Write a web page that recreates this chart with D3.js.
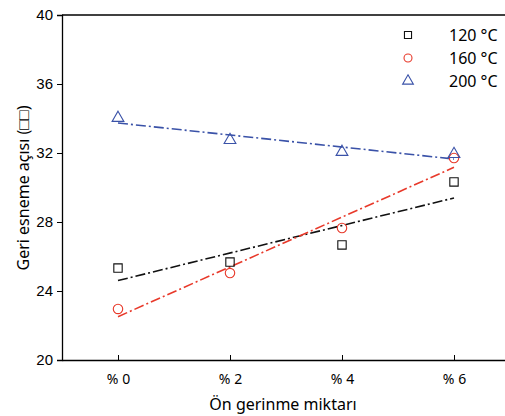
<!DOCTYPE html>
<html>
<head>
<meta charset="utf-8">
<script src="https://cdn.jsdelivr.net/npm/d3@7"></script>
<style>
  body { margin: 0; background: #fff; }
  .canva svg { display: block; }
</style>
</head>
<body>
<div class="canva"></div>
<script>
var strain = [0, 2, 4, 6];
var strainLabels = ["% 0", "% 2", "% 4", "% 6"];
var yTicks = [20, 24, 28, 32, 36, 40];

var series120 = [25.33, 25.68, 26.67, 30.32];
var series160 = [22.96, 25.04, 27.65, 31.71];
var series200 = [34.03, 32.75, 32.06, 31.94];

var seriesNames = ["120 °C", "160 °C", "200 °C"];
var seriesColors = ["#111111", "#e8392a", "#3a52a8"];
var seriesShapes = [d3.symbolSquare, d3.symbolCircle, d3.symbolTriangle];

const svg = d3.select(".canva").append("svg")
              .attr("width", 505)
              .attr("height", 416);

const margin = {top: 15, left: 62}
const graphWidth = 448;
const graphHeight = 345;

const g = svg.append("g")
             .attr("transform", `translate(${margin.left},${margin.top})`);

var x = d3.scaleLinear().domain([-1, 7]).range([0, graphWidth]);
var y = d3.scaleLinear().domain([20, 40]).range([graphHeight, 0]);

// frame: top line, left + bottom axes
g.append("line")
 .attr("x1", 0).attr("x2", graphWidth)
 .attr("y1", 0).attr("y2", 0)
 .attr("stroke", "#000").attr("stroke-width", 1.3);

var yAxis = d3.axisLeft(y).tickValues(yTicks).tickSize(5).tickPadding(4);
var yG = g.append("g").call(yAxis);
yG.select(".domain").attr("stroke-width", 1.3);
yG.selectAll("text")
  .attr("font-family", "Liberation Sans, Arial, sans-serif")
  .attr("font-size", 15)
  .attr("fill", "#000");

var xAxis = d3.axisBottom(x).tickValues(strain)
              .tickFormat((d, i) => strainLabels[i])
              .tickSizeInner(-5).tickSizeOuter(0).tickPadding(14);
var xG = g.append("g")
          .attr("transform", "translate(0," + graphHeight + ")")
          .call(xAxis);
xG.select(".domain").attr("stroke-width", 1.3);
xG.selectAll("text")
  .attr("font-family", "Noto Sans, sans-serif")
  .attr("font-size", 14)
  .attr("fill", "#000");

// regression lines
function fit(vals) {
  var mx = d3.mean(strain), my = d3.mean(vals);
  var sxy = d3.sum(strain, (d, i) => (d - mx) * (vals[i] - my));
  var sxx = d3.sum(strain, (d) => (d - mx) * (d - mx));
  var b = sxy / sxx;
  return [[strain[0], my + b * (strain[0] - mx)],
          [strain[strain.length - 1], my + b * (strain[strain.length - 1] - mx)]];
}

var allSeries = [series120, series160, series200];
var line = d3.line().x((d) => x(d[0])).y((d) => y(d[1]));

allSeries.forEach(function(vals, k) {
  g.append("path")
   .attr("d", line(fit(vals)))
   .attr("fill", "none")
   .attr("stroke", seriesColors[k])
   .attr("stroke-width", 1.6)
   .attr("stroke-dasharray", "10,3,2,3");
});

var symSizes = [70, 70, 60];
allSeries.forEach(function(vals, k) {
  g.selectAll(".pt" + k)
   .data(vals)
   .enter()
   .append("path")
   .attr("class", "pt" + k)
   .attr("transform", (d, i) => `translate(${x(strain[i])},${y(d)})`)
   .attr("d", d3.symbol().type(seriesShapes[k]).size(symSizes[k]))
   .attr("fill", "none")
   .attr("stroke", seriesColors[k])
   .attr("stroke-width", 1.1);
});

// legend
var legend = svg.append("g");
seriesNames.forEach(function(name, k) {
  var ly = 35 + k * 23;
  legend.append("path")
        .attr("transform", `translate(408,${ly})`)
        .attr("d", d3.symbol().type(seriesShapes[k]).size(50))
        .attr("fill", "none")
        .attr("stroke", seriesColors[k])
        .attr("stroke-width", 1.1);
  legend.append("text")
        .attr("x", 449).attr("y", ly + 6)
        .attr("font-family", "Noto Sans, sans-serif")
        .attr("font-size", 16)
        .text(name);
});

// axis titles
svg.append("text")
   .attr("x", 283).attr("y", 410)
   .attr("text-anchor", "middle")
   .attr("font-family", "Noto Sans, sans-serif")
   .attr("font-size", 16)
   .text("Ön gerinme miktarı");

svg.append("text")
   .attr("transform", "translate(29,188) rotate(-90)")
   .attr("text-anchor", "middle")
   .attr("font-family", "Noto Sans, sans-serif")
   .attr("font-size", 16)
   .text("Geri esneme açısı (□□)");
</script>
</body>
</html>
